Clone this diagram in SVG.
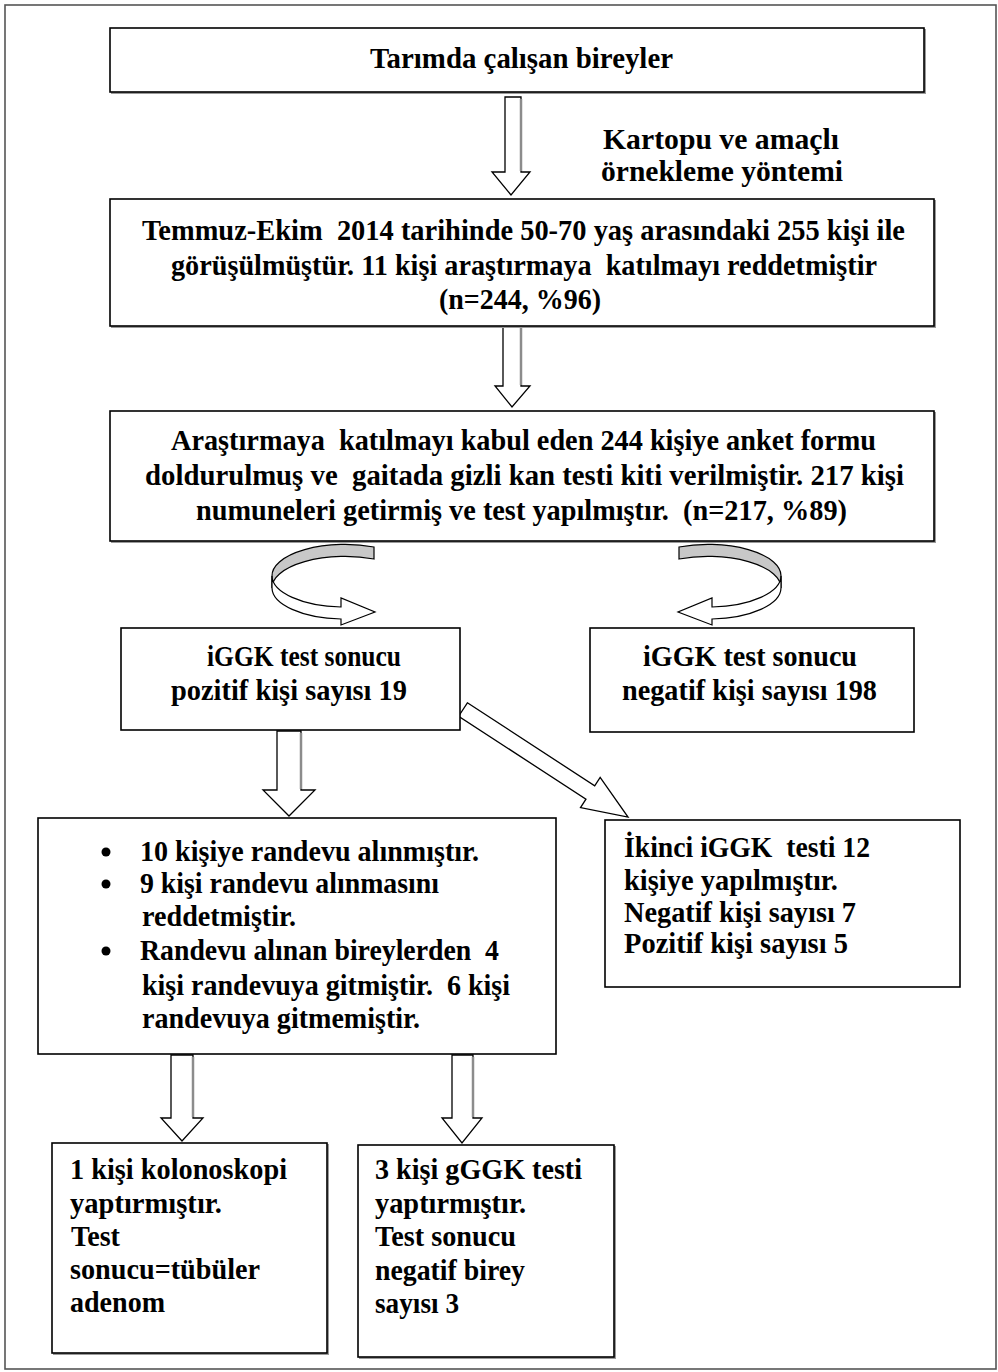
<svg xmlns="http://www.w3.org/2000/svg" width="998" height="1372" viewBox="0 0 998 1372">
<style>
  .box { fill: #ffffff; stroke: #000000; stroke-width: 1.6; }
  .shadow { fill: none; stroke: #9a9a9a; stroke-width: 2; }
  .t { font-family: "Liberation Serif", "Times New Roman", serif; font-weight: bold; font-size: 29px; fill: #000000; }
  .arrow { fill: #ffffff; stroke: #000000; stroke-width: 1.3; stroke-linejoin: miter; }
  .arrowside { stroke: #8c8c8c; stroke-width: 2.5; fill: none; }
  .back { fill: #c8c8c8; stroke: #000000; stroke-width: 1.2; }
  .front { fill: #ffffff; stroke: #000000; stroke-width: 1.2; }
</style>
<rect x="0" y="0" width="998" height="1372" fill="#ffffff"/>
<rect id="frame" x="5" y="5" width="991" height="1364" fill="none" stroke="#555555" stroke-width="1.6"/>

<g id="connectors">
  <polygon class="arrow" points="505,97 521,97 521,172 530,172 511,195 492,172 505,172"/>
  <line class="arrowside" x1="521" y1="99" x2="521" y2="171"/>
  <polygon class="arrow" points="503,326 521,326 521,386 530,386 512,407 495,386 503,386"/>
  <line class="arrowside" x1="521" y1="328" x2="521" y2="385"/>
  <polygon class="arrow" points="277,731 301,731 301,790 315,790 289,816 263,790 277,790"/>
  <line class="arrowside" x1="301" y1="733" x2="301" y2="789"/>
  <polygon class="arrow" points="171,1055 193,1055 193,1118 203,1118 182,1141 161,1118 171,1118"/>
  <line class="arrowside" x1="193" y1="1057" x2="193" y2="1117"/>
  <polygon class="arrow" points="452,1055 473,1055 473,1118 482,1118 462,1143 442,1118 452,1118"/>
  <line class="arrowside" x1="473" y1="1057" x2="473" y2="1117"/>
  <polygon class="arrow" transform="translate(463,709.5) rotate(33.1)" points="0,-8 152,-8 152,-18 197,0 152,18 152,8 0,8"/>
  <g id="curve-left">
    <path class="back" d="M 272,576 A 73 31.3 0 0 1 374,547 L 374,559 A 73 31.3 0 0 0 272,588 Z"/>
    <path class="front" d="M 272,576 A 73 31.3 0 0 0 341,607 L 341,598 L 375,612 L 341,625 L 341,619 A 73 31.3 0 0 1 272,588 Z"/>
  </g>
  <g id="curve-right" transform="translate(1053,0) scale(-1,1)">
    <path class="back" d="M 272,576 A 73 31.3 0 0 1 374,547 L 374,559 A 73 31.3 0 0 0 272,588 Z"/>
    <path class="front" d="M 272,576 A 73 31.3 0 0 0 341,607 L 341,598 L 375,612 L 341,625 L 341,619 A 73 31.3 0 0 1 272,588 Z"/>
  </g>
</g>

<g id="n1">
  <polyline class="shadow" points="111,93 925,93 925,29"/>
  <rect class="box" x="110" y="28" width="814" height="64"/>
  <text class="t" x="370" y="68" textLength="303" lengthAdjust="spacingAndGlyphs">Tarımda çalışan bireyler</text>
</g>

<g id="label-sampling">
  <text class="t" x="603" y="149" textLength="236" lengthAdjust="spacingAndGlyphs">Kartopu ve amaçlı</text>
  <text class="t" x="601" y="181" textLength="242" lengthAdjust="spacingAndGlyphs">örnekleme yöntemi</text>
</g>

<g id="n2">
  <polyline class="shadow" points="111,327 935,327 935,200"/>
  <rect class="box" x="110" y="199" width="824" height="127"/>
  <text class="t" xml:space="preserve" x="142" y="240" textLength="763" lengthAdjust="spacingAndGlyphs">Temmuz-Ekim  2014 tarihinde 50-70 yaş arasındaki 255 kişi ile</text>
  <text class="t" xml:space="preserve" x="171" y="275" textLength="706" lengthAdjust="spacingAndGlyphs">görüşülmüştür. 11 kişi araştırmaya  katılmayı reddetmiştir</text>
  <text class="t" x="439" y="309" textLength="162" lengthAdjust="spacingAndGlyphs">(n=244, %96)</text>
</g>

<g id="n3">
  <polyline class="shadow" points="111,542 935,542 935,412"/>
  <rect class="box" x="110" y="411" width="824" height="130"/>
  <text class="t" xml:space="preserve" x="171" y="450" textLength="705" lengthAdjust="spacingAndGlyphs">Araştırmaya  katılmayı kabul eden 244 kişiye anket formu</text>
  <text class="t" xml:space="preserve" x="145" y="485" textLength="759" lengthAdjust="spacingAndGlyphs">doldurulmuş ve  gaitada gizli kan testi kiti verilmiştir. 217 kişi</text>
  <text class="t" xml:space="preserve" x="196" y="520" textLength="651" lengthAdjust="spacingAndGlyphs">numuneleri getirmiş ve test yapılmıştır.  (n=217, %89)</text>
</g>

<g id="n4">
  <rect class="box" x="121" y="628" width="339" height="102"/>
  <text class="t" x="207" y="666" textLength="194" lengthAdjust="spacingAndGlyphs">iGGK test sonucu</text>
  <text class="t" x="171" y="700" textLength="236" lengthAdjust="spacingAndGlyphs">pozitif kişi sayısı 19</text>
</g>

<g id="n5">
  <rect class="box" x="590" y="628" width="324" height="104"/>
  <text class="t" x="643" y="666" textLength="214" lengthAdjust="spacingAndGlyphs">iGGK test sonucu</text>
  <text class="t" x="622" y="700" textLength="255" lengthAdjust="spacingAndGlyphs">negatif kişi sayısı 198</text>
</g>

<g id="n6">
  <rect class="box" x="38" y="818" width="518" height="236"/>
  <circle cx="106" cy="852" r="4.5" fill="#000"/>
  <circle cx="106" cy="884" r="4.5" fill="#000"/>
  <circle cx="106" cy="951" r="4.5" fill="#000"/>
  <text class="t" x="140" y="861" textLength="339" lengthAdjust="spacingAndGlyphs">10 kişiye randevu alınmıştır.</text>
  <text class="t" x="140" y="893" textLength="299" lengthAdjust="spacingAndGlyphs">9 kişi randevu alınmasını</text>
  <text class="t" x="142" y="926" textLength="154" lengthAdjust="spacingAndGlyphs">reddetmiştir.</text>
  <text class="t" xml:space="preserve" x="140" y="960" textLength="359" lengthAdjust="spacingAndGlyphs">Randevu alınan bireylerden  4</text>
  <text class="t" xml:space="preserve" x="142" y="995" textLength="368" lengthAdjust="spacingAndGlyphs">kişi randevuya gitmiştir.  6 kişi</text>
  <text class="t" x="142" y="1028" textLength="278" lengthAdjust="spacingAndGlyphs">randevuya gitmemiştir.</text>
</g>

<g id="n7">
  <rect class="box" x="605" y="820" width="355" height="167"/>
  <text class="t" xml:space="preserve" x="624" y="857" textLength="246" lengthAdjust="spacingAndGlyphs">İkinci iGGK  testi 12</text>
  <text class="t" x="624" y="890" textLength="214" lengthAdjust="spacingAndGlyphs">kişiye yapılmıştır.</text>
  <text class="t" x="624" y="922" textLength="232" lengthAdjust="spacingAndGlyphs">Negatif kişi sayısı 7</text>
  <text class="t" x="624" y="953" textLength="224" lengthAdjust="spacingAndGlyphs">Pozitif kişi sayısı 5</text>
</g>

<g id="n8">
  <polyline class="shadow" points="53,1354 328,1354 328,1144"/>
  <rect class="box" x="52" y="1143" width="275" height="210"/>
  <text class="t" x="70" y="1179" textLength="217" lengthAdjust="spacingAndGlyphs">1 kişi kolonoskopi</text>
  <text class="t" x="70" y="1213" textLength="152" lengthAdjust="spacingAndGlyphs">yaptırmıştır.</text>
  <text class="t" x="71" y="1246" textLength="49" lengthAdjust="spacingAndGlyphs">Test</text>
  <text class="t" x="70" y="1279" textLength="190" lengthAdjust="spacingAndGlyphs">sonucu=tübüler</text>
  <text class="t" x="70" y="1312" textLength="95" lengthAdjust="spacingAndGlyphs">adenom</text>
</g>

<g id="n9">
  <polyline class="shadow" points="359,1358 615,1358 615,1146"/>
  <rect class="box" x="358" y="1145" width="256" height="212"/>
  <text class="t" x="375" y="1179" textLength="207" lengthAdjust="spacingAndGlyphs">3 kişi gGGK testi</text>
  <text class="t" x="375" y="1213" textLength="151" lengthAdjust="spacingAndGlyphs">yaptırmıştır.</text>
  <text class="t" x="375" y="1246" textLength="141" lengthAdjust="spacingAndGlyphs">Test sonucu</text>
  <text class="t" x="375" y="1280" textLength="150" lengthAdjust="spacingAndGlyphs">negatif birey</text>
  <text class="t" x="375" y="1313" textLength="84" lengthAdjust="spacingAndGlyphs">sayısı 3</text>
</g>
</svg>
